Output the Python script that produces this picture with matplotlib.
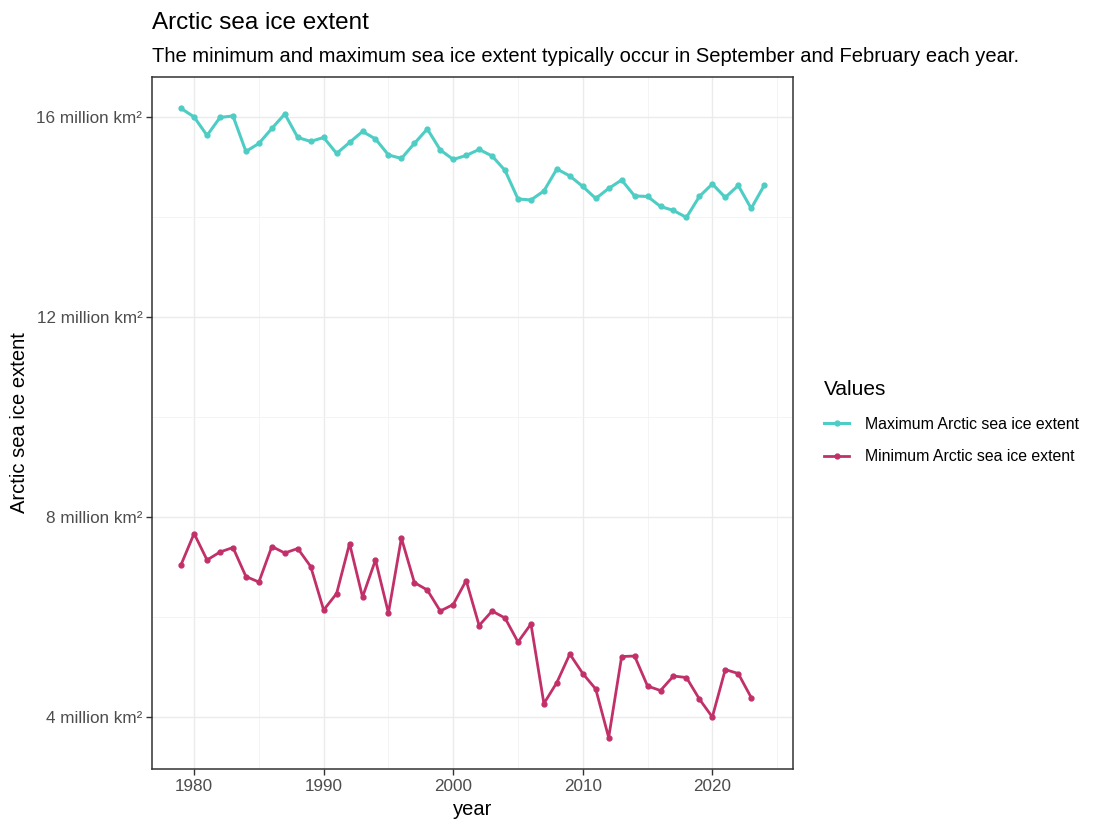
import matplotlib
matplotlib.use("Agg")
import matplotlib.pyplot as plt
from matplotlib.ticker import FixedLocator, FuncFormatter

plt.rcParams["font.family"] = ["Liberation Sans", "DejaVu Sans"]

# Annual maximum (Feb/Mar) extent, million km2, 1979-2024
max_years = list(range(1979, 2025))
max_extent = [16.17, 16.00, 15.63, 15.99, 16.02, 15.31, 15.47, 15.77, 16.06, 15.59,
              15.51, 15.59, 15.27, 15.49, 15.71, 15.56, 15.24, 15.17, 15.47, 15.76,
              15.34, 15.15, 15.23, 15.35, 15.22, 14.93, 14.36, 14.34, 14.52, 14.96,
              14.82, 14.61, 14.37, 14.57, 14.74, 14.42, 14.41, 14.21, 14.13, 13.99,
              14.41, 14.66, 14.39, 14.63, 14.17, 14.63]

# Annual minimum (September) extent, million km2, 1979-2023
min_years = list(range(1979, 2024))
min_extent = [7.05, 7.67, 7.14, 7.30, 7.39, 6.81, 6.70, 7.41, 7.28, 7.37,
              7.01, 6.14, 6.47, 7.47, 6.40, 7.14, 6.08, 7.58, 6.69, 6.54,
              6.12, 6.25, 6.73, 5.83, 6.12, 5.98, 5.50, 5.86, 4.27, 4.69,
              5.26, 4.87, 4.56, 3.59, 5.21, 5.22, 4.62, 4.53, 4.82, 4.79,
              4.36, 4.00, 4.95, 4.87, 4.39]

max_label = "Maximum Arctic sea ice extent"
min_label = "Minimum Arctic sea ice extent"
col_max = "#4ecdc4"
col_min = "#c2306a"

W, H = 1093, 819
fig = plt.figure(figsize=(W / 100, H / 100), dpi=100)
ax = fig.add_axes([152 / W, (H - 769) / H, (793.3 - 152) / W, (769 - 77) / H])

ax.plot(max_years, max_extent, color=col_max, lw=2.2, marker="o", ms=3.5, label=max_label)
ax.plot(min_years, min_extent, color=col_min, lw=2.0, marker="o", ms=3.5, label=min_label)

# ggplot-style 5% expansion
x0, x1 = 1979, 2024
y0, y1 = min(min_extent), max(max_extent)
ax.set_xlim(x0 - 0.05 * (x1 - x0), x1 + 0.05 * (x1 - x0))
ax.set_ylim(y0 - 0.05 * (y1 - y0), y1 + 0.05 * (y1 - y0))

ax.xaxis.set_major_locator(FixedLocator([1980, 1990, 2000, 2010, 2020]))
ax.xaxis.set_minor_locator(FixedLocator([1975, 1985, 1995, 2005, 2015, 2025]))
ax.yaxis.set_major_locator(FixedLocator([4, 8, 12, 16]))
ax.yaxis.set_minor_locator(FixedLocator([2, 6, 10, 14, 18]))
ax.yaxis.set_major_formatter(FuncFormatter(lambda v, p: f"{v:.0f} million km²"))

ax.grid(which="major", color="#ebebeb", lw=1.0)
ax.grid(which="minor", color="#f2f2f2", lw=0.6)
ax.set_axisbelow(True)
for s in ax.spines.values():
    s.set_color("#333333")
    s.set_linewidth(1.1)
ax.tick_params(which="major", length=4, width=1, color="#333333",
               labelcolor="#4d4d4d", labelsize=12.3, pad=3)
ax.tick_params(which="minor", length=0)

ax.set_xlabel("year", fontsize=14.5, color="black", labelpad=4.5)
ax.set_ylabel("Arctic sea ice extent", fontsize=14.5, color="black", labelpad=5)

fig.text(152 / W, 1 - 23 / H, "Arctic sea ice extent", fontsize=17.5, va="center", ha="left")
fig.text(152 / W, 1 - 56 / H,
         "The minimum and maximum sea ice extent typically occur in September and February each year.",
         fontsize=14.5, va="center", ha="left")

leg = ax.legend(loc="upper left", bbox_to_anchor=(810 / W, 1 - 366 / H),
                bbox_transform=fig.transFigure, frameon=False, title="Values",
                alignment="left", fontsize=11.4, title_fontsize=15,
                handlelength=1.55, handletextpad=1.0, labelspacing=1.1)

fig.savefig("out.png", dpi=100)
